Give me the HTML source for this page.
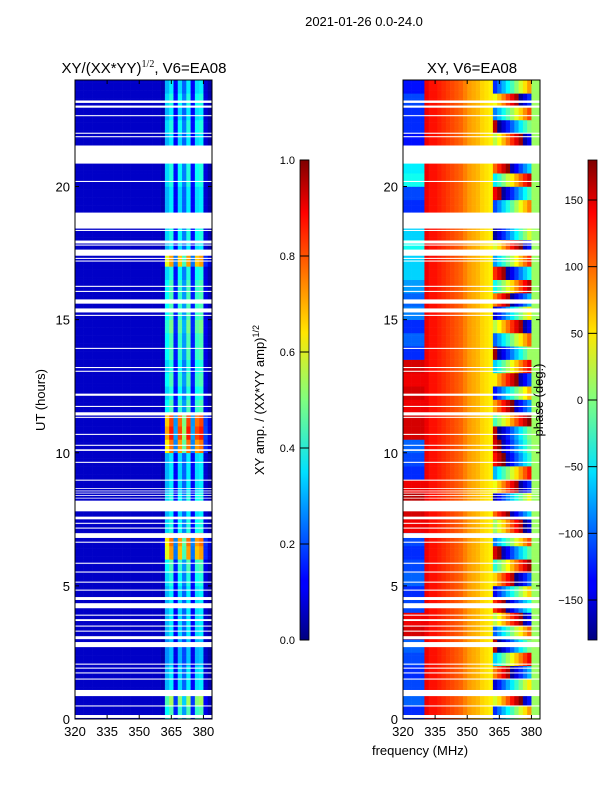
<!DOCTYPE html>
<html><head><meta charset="utf-8"><style>
html,body{margin:0;padding:0;background:#fff;}
svg{display:block;font-family:"Liberation Sans",sans-serif;}
</style></head><body>
<svg id="fig" width="600" height="800" viewBox="0 0 600 800">
<defs>
<linearGradient id="jet" x1="0" y1="1" x2="0" y2="0">
<stop offset="0" stop-color="#00007f"/><stop offset="0.11" stop-color="#0000ff"/><stop offset="0.125" stop-color="#0000ff"/>
<stop offset="0.35" stop-color="#00e0ff"/><stop offset="0.5" stop-color="#7fff7f"/><stop offset="0.64" stop-color="#ffe600"/>
<stop offset="0.89" stop-color="#ff0000"/><stop offset="1" stop-color="#7f0000"/>
</linearGradient>
</defs>
<text x="364" y="26" font-size="13" text-anchor="middle">2021-01-26 0.0-24.0</text>
<text x="144" y="73" font-size="15" text-anchor="middle">XY/(XX*YY)<tspan font-size="10" dy="-6" font-family="Liberation Serif">1/2</tspan><tspan dy="6">, V6=EA08</tspan></text>
<text x="472" y="73" font-size="15" text-anchor="middle">XY, V6=EA08</text>
<g id="ampCells"></g>
<g id="phaseCells"></g>
<g id="gapsL"></g>
<g id="gapsR"></g>
<rect x="75" y="80" width="137" height="639" fill="none" stroke="#000"/>
<rect x="403" y="80" width="137" height="639" fill="none" stroke="#000"/>
<g id="axes" font-size="13"></g>
<text transform="translate(45,400) rotate(-90)" font-size="13" text-anchor="middle">UT (hours)</text>
<text x="420" y="755" font-size="13" text-anchor="middle">frequency (MHz)</text>
<rect x="300" y="160" width="9" height="480" fill="url(#jet)" stroke="#000" stroke-width="0.8"/>
<rect x="588" y="160" width="9" height="480" fill="url(#jet)" stroke="#000" stroke-width="0.8"/>
<text transform="translate(264,400) rotate(-90)" font-size="13" text-anchor="middle">XY amp. / (XX*YY amp)<tspan font-size="9" dy="-5">1/2</tspan></text>
<text transform="translate(543,400) rotate(-90)" font-size="13" text-anchor="middle">phase (deg.)</text>
<g id="cbticks" font-size="11"></g>
</svg>
<script>
const NS="http://www.w3.org/2000/svg";
// ---- data ----
const freqTicks=[320,335,350,365,380];
const hourTicks=[0,5,10,15,20];
const ampTicks=[0.0,0.2,0.4,0.6,0.8,1.0];
const phaseTicks=[-150,-100,-50,0,50,100,150];
// amplitude frequency profile, 2 MHz bins from 320
const ampProfile=[0.07,0.07,0.07,0.07,0.07,0.07,0.07,0.07,0.07,0.07,0.07,0.07,0.07,0.07,0.07,0.07,0.07,0.07,0.07,0.07,0.12,0.75,0.9,0.3,0.85,0.55,0.9,0.3,0.85,0.9,0.2,0.1];
// bright-band gain per half hour
const ampGain=[0.5,0.6,0.4,0.4,0.35,0.35,0.4,0.4,0.4,0.4,0.45,0.5,0.8,0.85,0.45,0.4,0.45,0.4,0.4,0.4,0.85,0.95,0.9,0.5,0.45,0.5,0.45,0.5,0.5,0.55,0.5,0.5,0.5,0.45,0.8,0.4,0.45,0.45,0.4,0.4,0.45,0.45,0.45,0.4,0.45,0.4,0.45,0.4];
// phase at low frequencies per half hour
const phaseLow=[-120,-100,-110,-120,-110,-100,150,140,-110,-120,-100,-110,-120,-110,140,150,160,140,-120,-110,-100,150,150,140,150,140,150,-120,-100,-120,-90,-100,-80,-60,-60,-40,-60,-60,-120,-110,-40,-50,-60,-130,-120,-120,-110,-130];
// phase of mid band per 2 MHz bin (null = low/high regime)
const phaseMid=[null,null,null,null,null,140,130,130,125,120,115,110,105,100,90,80,75,70,60,55,50,null,null,null,null,null,null,null,null,null,10,10];
// high-band phase per half hour and per-bin offset
const phaseHi=[-120,30,-150,90,-60,160,-100,20,120,-140,60,-30,150,-90,10,100,-160,40,-70,130,150,160,-20,80,-130,50,-60,170,-100,20,-150,90,-40,120,-80,30,-170,60,-110,140,-50,100,-140,20,160,-90,40,-120];
const phaseOffset=[0,25,50,75,100,125,150,175,200];
// flagged (blank) intervals in hours [start,end]
const gaps=[[0.04,0.15],[0.47,0.51],[0.86,1.09],[1.48,1.52],[1.71,1.75],[1.89,1.93],[2.04,2.08],[2.7,2.89],[3.0,3.11],[3.28,3.32],[3.47,3.51],[3.68,3.75],[3.88,3.92],[4.16,4.35],[4.47,4.58],[4.82,4.86],[5.12,5.16],[5.5,5.54],[5.83,5.87],[6.62,6.66],[6.8,6.98],[7.15,7.19],[7.33,7.37],[7.5,7.6],[7.8,8.2],[8.28,8.31],[8.38,8.41],[8.47,8.5],[8.55,8.58],[8.64,8.67],[8.95,8.99],[9.62,9.66],[10.07,10.13],[10.26,10.3],[10.67,10.71],[11.31,11.35],[11.4,11.52],[11.72,11.76],[12.14,12.22],[13.04,13.08],[13.18,13.22],[13.9,13.94],[15.14,15.18],[15.27,15.42],[15.6,15.76],[16.04,16.08],[16.23,16.27],[17.18,17.22],[17.28,17.32],[17.4,17.63],[17.78,17.82],[17.86,17.97],[18.33,18.37],[18.42,19.02],[20.17,20.21],[20.86,21.54],[21.85,21.89],[21.98,22.02],[22.64,22.68],[22.96,23.04],[23.14,23.23]];
// ---- helpers ----
function jet(v){v=Math.max(0,Math.min(1,v));const c=x=>Math.round(255*Math.max(0,Math.min(1,1.5-Math.abs(4*v-x))));return `rgb(${c(3)},${c(2)},${c(1)})`;}
function wrap(p){while(p>180)p-=360;while(p<-180)p+=360;return p;}
const Y=h=>719-h*639/24;
const XL=f=>75+(f-320)*137/64;
const XR=f=>403+(f-320)*137/64;
function rect(g,x,y,w,h,fill){const r=document.createElementNS(NS,"rect");r.setAttribute("x",x);r.setAttribute("y",y);r.setAttribute("width",w);r.setAttribute("height",h);r.setAttribute("fill",fill);g.appendChild(r);return r;}
const gA=document.getElementById("ampCells"),gP=document.getElementById("phaseCells");
const rowH=0.1;
for(let i=0;i<240;i++){
  const h0=i*rowH,hh=Math.floor(h0*2);
  for(let b=0;b<32;b++){
    const f0=320+2*b;
    const amp=b<20?ampProfile[b]:ampProfile[b]*ampGain[hh];
    const ra=rect(gA,XL(f0),Y(h0+rowH),XL(f0+2)-XL(f0)+0.3,Y(h0)-Y(h0+rowH)+0.3,jet(amp));
    
    
    let ph;
    if(b<5) ph=phaseLow[hh];
    else if(b>=21&&b<=29) ph=wrap(phaseHi[hh]+phaseOffset[b-21]);
    else ph=phaseMid[b];
    const rp=rect(gP,XR(f0),Y(h0+rowH),XR(f0+2)-XR(f0)+0.3,Y(h0)-Y(h0+rowH)+0.3,jet((ph+180)/360));
    
    
  }
}
const gL=document.getElementById("gapsL"),gR=document.getElementById("gapsR");
gaps.forEach(g=>{
  const a=rect(gL,75,Y(g[1]),137,Y(g[0])-Y(g[1]),"#fff");
  
  
  const b=rect(gR,403,Y(g[1]),137,Y(g[0])-Y(g[1]),"#fff");
  
  
});
const ax=document.getElementById("axes");
function line(g,x1,y1,x2,y2){const l=document.createElementNS(NS,"line");l.setAttribute("x1",x1);l.setAttribute("y1",y1);l.setAttribute("x2",x2);l.setAttribute("y2",y2);l.setAttribute("stroke","#000");l.setAttribute("stroke-width","1");g.appendChild(l);return l;}
function text(g,x,y,s,anchor){const t=document.createElementNS(NS,"text");t.setAttribute("x",x);t.setAttribute("y",y);t.setAttribute("text-anchor",anchor);t.textContent=s;g.appendChild(t);return t;}
[XL,XR].forEach((X,k)=>{
  freqTicks.forEach(f=>{
    const x=X(f);
    const l1=line(ax,x,719,x,715);
    const l2=line(ax,x,80,x,84);
    const t=text(ax,x,736,String(f),"middle");
    
    
  });
  const x0=k?403:75,x1=k?540:212;
  hourTicks.forEach(h=>{
    const y=Y(h);
    const l1=line(ax,x0,y,x0+4,y);
    const l2=line(ax,x1,y,x1-4,y);
    const t=text(ax,x0-5,y+5,String(h),"end");
    
    
  });
});
const cb=document.getElementById("cbticks");
ampTicks.forEach(v=>{
  const y=640-v*480;
  const l=line(cb,300,y,309,y);
  const t=text(cb,295,y+4,v.toFixed(1),"end");
  
  
});
phaseTicks.forEach(v=>{
  const y=640-(v+180)/360*480;
  const l=line(cb,588,y,597,y);
  const t=text(cb,583,y+4,v<0?"\u2212"+(-v):String(v),"end");
  
  
});
</script>
</body></html>
